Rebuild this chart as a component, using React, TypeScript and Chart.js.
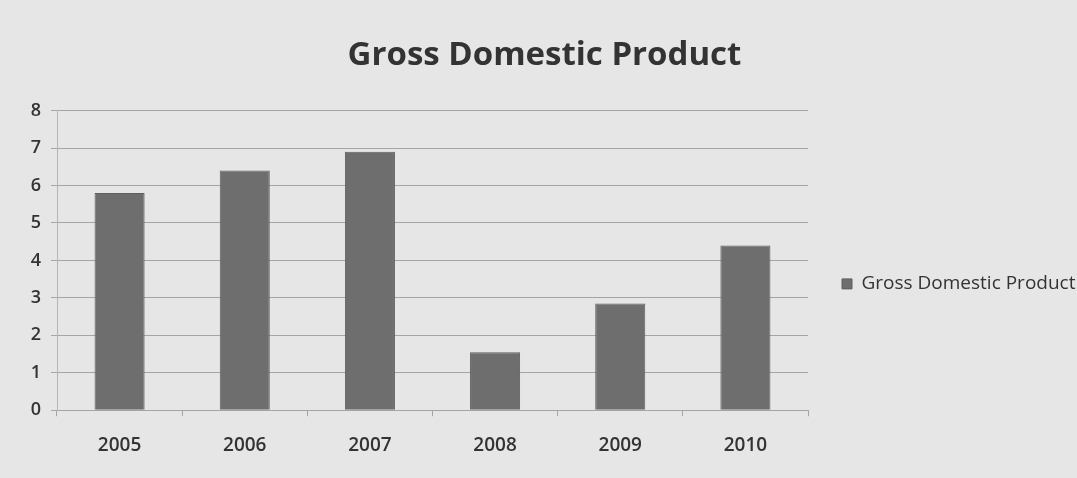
import React, { useEffect, useRef } from "react";
import { Chart, registerables } from "chart.js";

Chart.register(...registerables);

const chartTitle = "Gross Domestic Product";
const seriesName = "Gross Domestic Product";
const years = ["2005", "2006", "2007", "2008", "2009", "2010"];
const gdpValues = [5.8, 6.4, 6.9, 1.55, 2.85, 4.4];
const yTicks = [0, 1, 2, 3, 4, 5, 6, 7, 8];

const bgPlugin = {
  id: "paperBg",
  beforeDraw(chart: any) {
    const { ctx, width, height } = chart;
    ctx.save();
    ctx.fillStyle = "#e6e6e6";
    ctx.fillRect(0, 0, width, height);
    ctx.restore();
  },
};

export default function App() {
  const ref = useRef<HTMLCanvasElement | null>(null);

  useEffect(() => {
    document.body.style.margin = "0";
    const canvas = ref.current;
    if (!canvas) return;
    const font = "'Open Sans', 'DejaVu Sans', sans-serif";
    const chart = new Chart(canvas, {
      type: "bar",
      data: {
        labels: years,
        datasets: [
          {
            label: seriesName,
            data: gdpValues,
            backgroundColor: "#6e6e6e",
            borderColor: "#5f5f5f",
            borderWidth: 1,
            barPercentage: 0.4,
            categoryPercentage: 1,
          },
        ],
      },
      options: {
        animation: false,
        responsive: false,
        maintainAspectRatio: false,
        layout: { padding: { left: 12, right: 0, top: 0, bottom: 3 } },
        plugins: {
          title: {
            display: true,
            text: chartTitle,
            color: "#333333",
            font: { family: font, size: 33, weight: "bold" },
            padding: { top: 36, bottom: 35 },
          },
          legend: {
            display: true,
            position: "right",
            fullSize: false,
            maxWidth: 269,
            title: {
              display: true,
              text: " ",
              font: { family: font, size: 10 },
              padding: { top: 0, bottom: 35 },
            },
            labels: {
              boxWidth: 10,
              boxHeight: 10,
              padding: 34,
              color: "#333333",
              font: { family: font, size: 19 },
            },
          },
          tooltip: { enabled: false },
        },
        scales: {
          x: {
            grid: {
              display: true,
              drawOnChartArea: false,
              drawTicks: true,
              tickLength: 6,
              color: "#a5a5a5",
            },
            border: { display: true, color: "#a5a5a5" },
            ticks: {
              color: "#333333",
              padding: 18,
              font: { family: font, size: 19, weight: 600 },
            },
          },
          y: {
            min: 0,
            max: 8,
            afterFit: (scale: any) => {
              scale.width = 45;
            },
            afterBuildTicks: (scale: any) => {
              scale.ticks = yTicks.map((v) => ({ value: v }));
            },
            grid: {
              color: "#a5a5a5",
              tickLength: 6,
            },
            border: { display: true, color: "#b5b5b5" },
            ticks: {
              color: "#333333",
              padding: 10,
              font: { family: font, size: 18, weight: 600 },
            },
          },
        },
      },
      plugins: [bgPlugin],
    });
    return () => chart.destroy();
  }, []);

  return (
    <canvas
      ref={ref}
      width={1077}
      height={478}
      style={{ display: "block", width: 1077, height: 478 }}
    />
  );
}
